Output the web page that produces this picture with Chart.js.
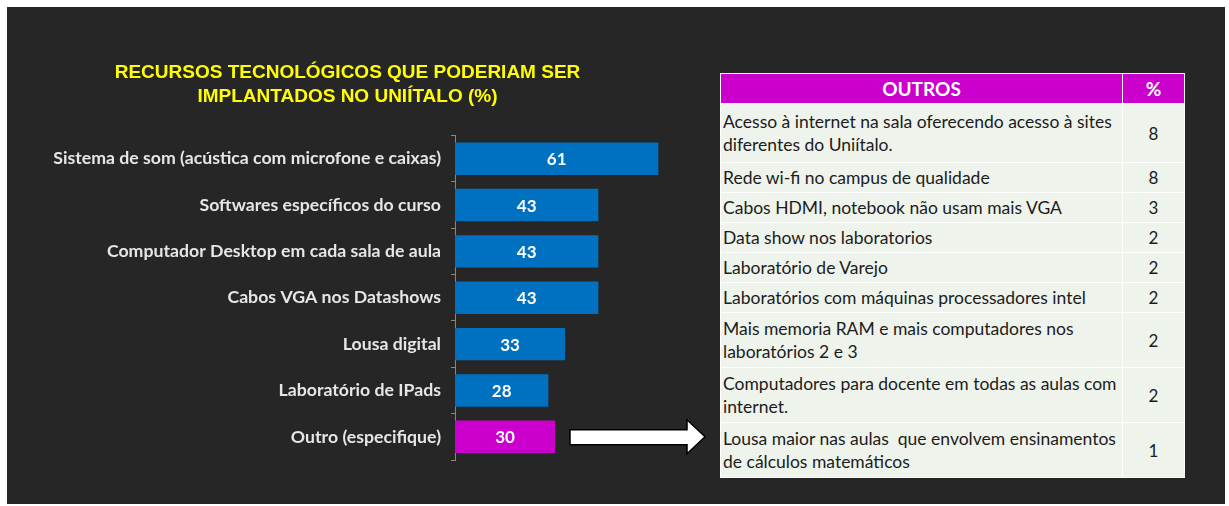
<!DOCTYPE html>
<html>
<head>
<meta charset="utf-8">
<script src="https://cdn.jsdelivr.net/npm/chart.js@4"></script>
<style>
  html, body { margin:0; padding:0; background:#ffffff; }
  #stage { position:relative; width:1229px; height:506px; overflow:hidden; }
  #panel { position:absolute; left:7px; top:7px; width:1218px; height:497px; background:#262626; }
  #chartBox { position:absolute; left:0; top:0; width:715px; height:506px; }
  #outros {
    position:absolute; left:720px; top:73px; width:465px; table-layout:fixed;
    border-collapse:collapse; font-family:Lato, "Open Sans", sans-serif; font-size:17.5px; color:#1c1c1c;
    border:1px solid #f4f4f4;
  }
  #outros th { background:#cc00cc; color:#fff; font-weight:bold; font-size:19px; height:29px; padding:0; border:1px solid #f4f4f4; }
  #outros th.pct { width:61px; }
  #outros td { background:#eef3ec; border:1px solid #ffffff; padding:3px 2px; line-height:23px; white-space:pre; overflow:hidden; }
  #outros td.pct { text-align:center; font-size:17px; }
</style>
</head>
<body>
<div id="stage">
  <div id="panel"></div>
  <div id="chartBox"><canvas id="barChart"></canvas></div>
  <table id="outros">
    <thead><tr><th>OUTROS</th><th class="pct">%</th></tr></thead>
    <tbody id="outrosBody"></tbody>
  </table>
</div>
<script>
// ------------------------
// DATA
// ------------------------
const titleLines = ["RECURSOS TECNOLÓGICOS QUE PODERIAM SER", "IMPLANTADOS NO UNIÍTALO (%)"];

const categories = [
  "Sistema de som (acústica com microfone e caixas)",
  "Softwares específicos do curso",
  "Computador Desktop em cada sala de aula",
  "Cabos VGA nos Datashows",
  "Lousa digital",
  "Laboratório de IPads",
  "Outro (especifique)"
];
const values = [61, 43, 43, 43, 33, 28, 30];

// breakdown of "Outro" answers (line breaks as they wrap in the table)
const outrosItems = [
  "Acesso à internet na sala oferecendo acesso à sites\ndiferentes do Uniítalo.",
  "Rede wi-fi no campus de qualidade",
  "Cabos HDMI, notebook não usam mais VGA",
  "Data show nos laboratorios",
  "Laboratório de Varejo",
  "Laboratórios com máquinas processadores intel",
  "Mais memoria RAM e mais computadores nos\nlaboratórios 2 e 3",
  "Computadores para docente em todas as aulas com\ninternet.",
  "Lousa maior nas aulas  que envolvem ensinamentos\nde cálculos matemáticos"
];
const outrosPct = [8, 8, 3, 2, 2, 2, 2, 2, 1];

// ------------------------
// STYLE
// ------------------------
const BLUE = "#0070c0";
const MAGENTA = "#cc00cc";
const AXIS = "#9b8560";
const LABEL_FONT = "Lato, sans-serif";

// ------------------------
// TABLE
// ------------------------
const body = document.getElementById("outrosBody");
outrosItems.forEach((txt, i) => {
  const tr = document.createElement("tr");
  const lines = txt.split("\n").length;
  const td = document.createElement("td");
  td.textContent = txt;
  if (lines > 1) td.style.height = i === 0 ? "52px" : "48px";
  const tp = document.createElement("td");
  tp.className = "pct";
  tp.textContent = outrosPct[i];
  tr.appendChild(td);
  tr.appendChild(tp);
  body.appendChild(tr);
});

// ------------------------
// PLUGINS
// ------------------------
// value printed in the middle of each bar
const barValues = {
  id: "barValues",
  afterDatasetsDraw(chart) {
    const { ctx } = chart;
    const meta = chart.getDatasetMeta(0);
    ctx.save();
    ctx.fillStyle = "#ffffff";
    ctx.font = "bold 17px Lato, sans-serif";
    ctx.textAlign = "center";
    ctx.textBaseline = "middle";
    meta.data.forEach((bar, i) => {
      ctx.fillText(values[i], (bar.base + bar.x) / 2, bar.y + 1);
    });
    ctx.restore();
  }
};

// white arrow pointing from the "Outro" bar to the table
const outroArrow = {
  id: "outroArrow",
  afterDraw(chart) {
    const { ctx } = chart;
    const idx = categories.length - 1;
    const y = chart.scales.y.getPixelForValue(idx);
    const x0 = 570, x1 = 687, tip = 705;
    ctx.save();
    ctx.beginPath();
    ctx.moveTo(x0, y - 7);
    ctx.lineTo(x1, y - 7);
    ctx.lineTo(x1, y - 17);
    ctx.lineTo(tip, y);
    ctx.lineTo(x1, y + 17);
    ctx.lineTo(x1, y + 8);
    ctx.lineTo(x0, y + 8);
    ctx.closePath();
    ctx.fillStyle = "#ffffff";
    ctx.fill();
    ctx.strokeStyle = "#000000";
    ctx.lineWidth = 1.5;
    ctx.stroke();
    ctx.restore();
  }
};

// ------------------------
// CHART
// ------------------------
const chart = new Chart(document.getElementById("barChart").getContext("2d"), {
  type: "bar",
  data: {
    labels: categories,
    datasets: [{
      data: values,
      backgroundColor: categories.map(c => c.startsWith("Outro") ? MAGENTA : BLUE),
      borderWidth: 0,
      categoryPercentage: 1,
      barPercentage: 0.7
    }]
  },
  options: {
    indexAxis: "y",
    responsive: true,
    maintainAspectRatio: false,
    animation: false,
    layout: { padding: { left: 0, right: 20, top: 0, bottom: 46 } },
    plugins: {
      legend: { display: false },
      tooltip: { enabled: false },
      title: {
        display: true,
        text: titleLines,
        color: "#ffff00",
        font: { family: "'Liberation Sans', Arial, sans-serif", size: 19, weight: "bold", lineHeight: 1.25 },
        padding: { top: 61, bottom: 27 }
      }
    },
    scales: {
      x: { display: false, min: 0, max: 72 },
      y: {
        afterFit(scale) { scale.width = 455; },
        grid: { display: true, drawOnChartArea: false, drawTicks: true, tickLength: 4, color: AXIS, offset: true },
        border: { display: true, color: AXIS, width: 1 },
        ticks: {
          color: "#e6e6e6",
          padding: 10,
          font: { family: LABEL_FONT, size: 17.7, weight: "bold" }
        }
      }
    }
  },
  plugins: [barValues, outroArrow]
});
</script>
</body>
</html>
